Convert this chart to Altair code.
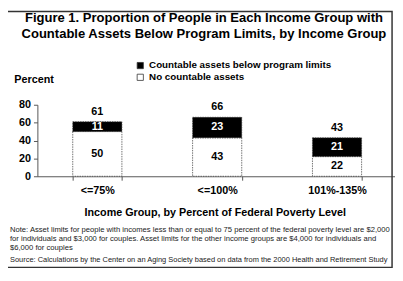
import altair as alt
import pandas as pd

groups = ["<=75%", "<=100%", "101%-135%"]
countable = [11, 23, 21]
no_assets = [50, 43, 22]
totals = [61, 66, 43]
series = ["Countable assets below program limits", "No countable assets"]
y_ticks = [0, 20, 40, 60, 80]

title_lines = ["Figure 1. Proportion of People in Each Income Group with",
               "Countable Assets Below Program Limits, by Income Group"]
x_title = "Income Group, by Percent of Federal Poverty Level"
note_lines = ["Note: Asset limits for people with incomes less than or equal to 75 percent of the federal poverty level are $2,000",
              "for individuals and $3,000 for couples. Asset limits for the other income groups are $4,000 for individuals and",
              "$6,000 for couples"]
source_line = "Source: Calculations by the Center on an Aging Society based on data from the 2000 Health and Retirement Study"

rows = []
for g, c, n in zip(groups, countable, no_assets):
    rows.append({"group": g, "series": series[1], "value": n, "ord": 0})
    rows.append({"group": g, "series": series[0], "value": c, "ord": 1})
df = pd.DataFrame(rows)
tot = pd.DataFrame({"group": groups, "total": totals})

FONT = "Liberation Sans"
W, H = 365, 73
XR = 367

xscale = alt.Scale(domain=groups, range=[0, XR], paddingInner=0.59, paddingOuter=0.295)
yscale = alt.Scale(domain=[0, 80])

xaxis = alt.Axis(title=x_title, labelAngle=0, labelFont=FONT, labelFontWeight="bold",
                 labelFontSize=11, labelColor="black", titleFont=FONT, titleFontWeight="bold",
                 titleFontSize=11, titleColor="black", titlePadding=11, labelPadding=5,
                 titleX=181, titleAnchor="middle",
                 tickBand="extent", tickSize=4, domainColor="#555", tickColor="#555")
yaxis = alt.Axis(values=y_ticks, title="Percent", titleAngle=0, titleAlign="left",
                 titleX=-24, titleY=-21, titleFont=FONT, titleFontWeight="bold",
                 titleFontSize=11, titleColor="black", labelFont=FONT, labelFontWeight="bold",
                 labelFontSize=11, labelColor="black", grid=False, tickSize=4,
                 labelOverlap=False, labelPadding=3, domainColor="#555", tickColor="#555")

bars = alt.Chart(df).mark_bar(stroke="#333", strokeWidth=0.7, strokeDash=[1.5, 1]).encode(
    x=alt.X("group:N", sort=groups, scale=xscale, axis=xaxis),
    y=alt.Y("value:Q", stack="zero", scale=yscale, axis=yaxis),
    color=alt.Color("series:N", scale=alt.Scale(domain=series, range=["black", "white"]),
                    legend=alt.Legend(title=None, orient="none", legendX=100, legendY=-45,
                                      symbolType="square", symbolSize=40, symbolStrokeColor="#333",
                                      symbolStrokeWidth=0.8, labelFont=FONT, labelFontWeight="bold",
                                      labelFontSize=10, labelColor="black", rowPadding=2, labelOffset=4,
                                      labelLimit=400)),
    order=alt.Order("ord:Q"),
)

seg_text = alt.Chart(df).transform_stack(
    stack="value", groupby=["group"], as_=["v0", "v1"], sort=[alt.SortField("ord")]
).transform_calculate(mid="(datum.v0 + datum.v1) / 2").mark_text(
    font=FONT, fontWeight="bold", fontSize=11, baseline="middle"
).encode(
    x=alt.X("group:N", sort=groups, scale=xscale, axis=xaxis),
    y=alt.Y("mid:Q", scale=yscale, axis=yaxis),
    text="value:Q",
    color=alt.Color("series:N", scale=alt.Scale(domain=series, range=["white", "black"]), legend=None),
)

tot_text = alt.Chart(tot).mark_text(font=FONT, fontWeight="bold", fontSize=11, dy=-10, color="black").encode(
    x=alt.X("group:N", sort=groups, scale=xscale, axis=xaxis),
    y=alt.Y("total:Q", scale=yscale, axis=yaxis), text="total:Q")

ann = pd.DataFrame({"k": [0]})
title_mark = alt.Chart(ann).mark_text(font=FONT, fontWeight="bold", fontSize=13.3, lineHeight=16,
                                      align="center", baseline="alphabetic", color="black").encode(
    x=alt.value(170), y=alt.value(-84.5), text=alt.value(title_lines))
note_mark = alt.Chart(ann).mark_text(font=FONT, fontSize=7.8, lineHeight=9, align="left",
                                     baseline="alphabetic", color="#222").encode(
    x=alt.value(-28), y=alt.value(130), text=alt.value(note_lines))
source_mark = alt.Chart(ann).mark_text(font=FONT, fontSize=7.6, align="left",
                                       baseline="alphabetic", color="#222").encode(
    x=alt.value(-28), y=alt.value(160), text=alt.value(source_line))
border = alt.Chart(ann).mark_rect(fill="transparent", stroke="#333", strokeWidth=1.5).encode(
    x=alt.value(-33), x2=alt.value(362), y=alt.value(-95.2), y2=alt.value(166))

chart = alt.layer(border, bars, seg_text, tot_text, title_mark, note_mark, source_mark).resolve_scale(
    color="independent").properties(
    width=W, height=H, autosize=alt.AutoSizeParams(type="none"),
    padding={"left": 30, "top": 96, "right": 0, "bottom": 97},
    background="white"
).configure_view(stroke=None)

chart.save("out.html", embed_options={"renderer": "svg", "actions": False})
